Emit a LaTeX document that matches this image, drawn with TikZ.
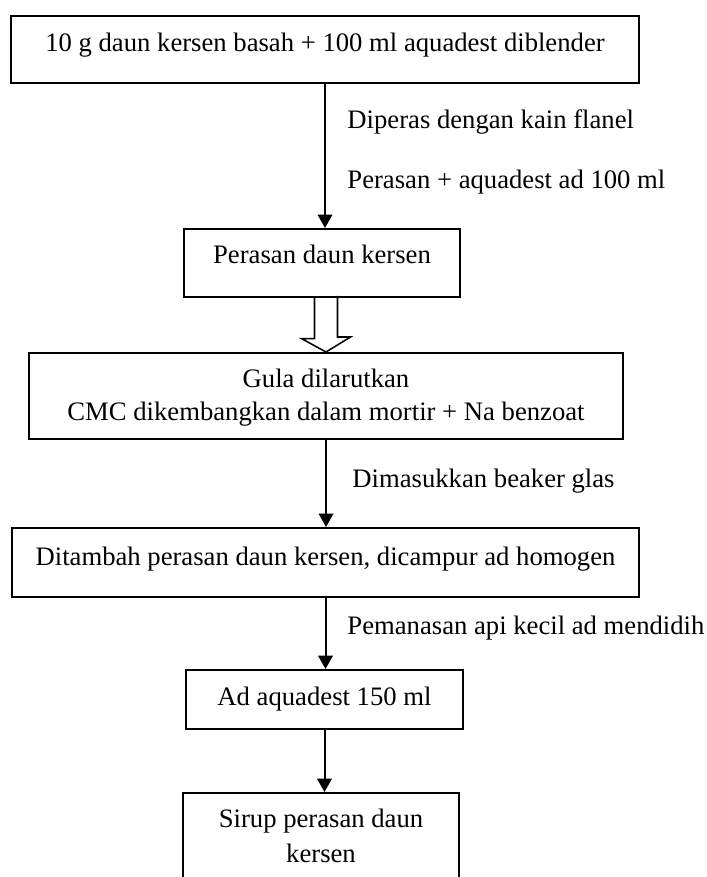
\documentclass[tikz,border=0pt]{standalone}
\usepackage{fontspec}
\setmainfont{Liberation Serif}
\usepackage{tikz}
\usetikzlibrary{arrows.meta}
\newcommand{\topgap}{\rule{0pt}{10.75pt}}
\newcommand{\botgap}{\rule[-3.1pt]{0pt}{3.1pt}}

\begin{document}
\begin{tikzpicture}[x=0.45pt,y=-0.45pt,>={Triangle[length=6pt,width=6.5pt]},
      font=\fontsize{12}{15}\selectfont,
      main node/.style={draw,line width=0.7pt,anchor=north,inner xsep=0pt,inner ysep=0pt,text height=16.2pt},
      two node/.style={draw,line width=0.7pt,anchor=north,inner xsep=0pt,inner ysep=5pt,align=center},
      flow/.style={->,line width=0.9pt},
      hollow/.style={line width=0.7pt},
      note/.style={anchor=base west,inner sep=0pt}]

      \useasboundingbox (0,0) rectangle (706,877);
      \clip (0,0) rectangle (706,877);

      \node[main node,minimum width=282.6pt,text depth=13.95pt] (blend) at (325,15) {10 g daun kersen basah + 100 ml aquadest diblender};
      \node[main node,minimum width=124.2pt,text height=15.75pt,text depth=14.85pt] (juice) at (322,228) {Perasan daun kersen};
      \node[two node,minimum width=267.3pt,font=\fontsize{12}{14.85}\selectfont] (mix) at (326,352) {\topgap Gula dilarutkan\\CMC dikembangkan dalam mortir + Na benzoat\botgap};
      \node[main node,minimum width=282.15pt,text height=17.1pt,text depth=13.95pt] (add) at (325.5,527) {Ditambah perasan daun kersen, dicampur ad homogen};
      \node[main node,minimum width=124.65pt,text depth=10.35pt] (water) at (324.5,669) {Ad aquadest 150 ml};
      \node[two node,minimum width=124.2pt,font=\fontsize{12}{15.75}\selectfont] (syrup) at (321,792) {\topgap Sirup perasan daun\\kersen\botgap};

      \node[note] (squeeze) at (347,129) {Diperas dengan kain flanel};
      \node[note] (dilute) at (347,189) {Perasan + aquadest ad 100 ml};
      \node[note] (beaker) at (352,487) {Dimasukkan beaker glas};
      \node[note] (heat) at (347,634) {Pemanasan api kecil ad mendidih};

      \draw[flow] (blend) -- (blend |- juice.north);
      \draw[hollow] (juice.south -| mix.north) ++(-11.5,0) -- ++(0,41) -- ++(-13,0)
            -- (mix.north) -- ++(24.5,-15) -- ++(-13,0) -- ++(0,-41);
      \draw[flow] (mix) -- (mix |- add.north);
      \draw[flow] (add) -- (add |- water.north);
      \draw[flow] (water) -- (water |- syrup.north);
\end{tikzpicture}
\end{document}
